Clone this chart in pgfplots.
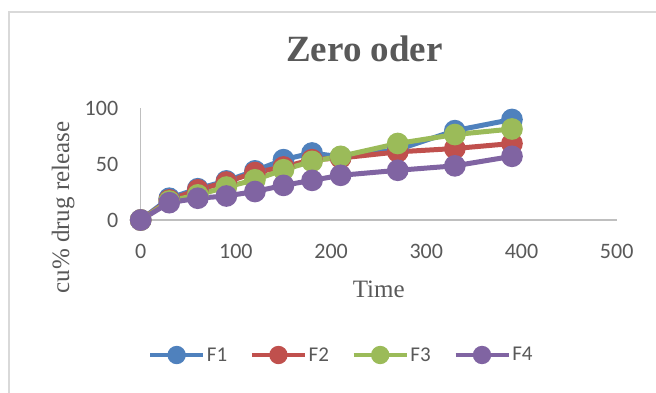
\documentclass[border=0pt]{standalone}
\usepackage{fontspec}
\setmainfont{Liberation Serif}
\newfontfamily\calibri{Carlito}
\usepackage{pgfplots}
\pgfplotsset{compat=1.18}

\definecolor{sBlue}{HTML}{4F81BD}
\definecolor{sRed}{HTML}{C0504D}
\definecolor{sGreen}{HTML}{9BBB59}
\definecolor{sPurple}{HTML}{8064A2}
\definecolor{txtGray}{HTML}{595959}
\definecolor{axGray}{HTML}{BFBFBF}
\definecolor{frameGray}{HTML}{D9D9D9}

\begin{document}
\begin{tikzpicture}[x=1pt,y=1pt]
\useasboundingbox (0,0) rectangle (656,392);
\begin{scope}
\clip (0,0) rectangle (656,392);
\fill[white] (0,0) rectangle (656,392);
\draw[frameGray, line width=1.4pt] (9,-20) rectangle (700,380);
\end{scope}
\begin{axis}[
  at={(140.7pt,172pt)}, anchor=south west,
  scale only axis, width=476pt, height=111.7pt,
  xmin=0, xmax=500, ymin=0, ymax=100,
  xtick={0,100,...,500}, ytick={0,50,100},
  axis x line*=bottom, axis y line*=left,
  axis line style={axGray, line width=1.2pt},
  major tick length=0pt,
  clip=false,
  /pgf/number format/assume math mode=true,
  ticklabel style={font=\calibri\fontsize{22}{22}\selectfont, text=txtGray},
  xticklabel style={anchor=center, yshift=-31pt},
  yticklabel style={anchor=east, xshift=-19pt},
  title={Zero oder},
  title style={at={(axis description cs:0.470,1.3635)}, anchor=base,
    font=\bfseries\fontsize{37}{37}\selectfont, text=txtGray},
  xlabel={Time},
  xlabel style={at={(axis description cs:0.5,-0.698)}, anchor=base,
    font=\fontsize{25}{25}\selectfont, text=txtGray},
  ylabel={cu\% drug release},
  ylabel style={at={(axis description cs:-0.163,0.112)}, anchor=center, rotate=0,
    font=\fontsize{25}{25}\selectfont, text=txtGray},
  legend columns=4,
  legend style={draw=none, fill=none, at={(axis description cs:0.4218,-1.2086)}, anchor=center,
    font=\calibri\fontsize{21}{21}\selectfont, text=txtGray,
    /tikz/every even column/.append style={column sep=21pt}},
  legend image code/.code={
    \draw[mark repeat=2, mark phase=2, #1, line width=3.5pt, mark size=7.4pt]
      plot coordinates {(0pt,0pt) (26.5pt,0pt) (53pt,0pt)};
  },
  every axis plot/.append style={line width=5pt, mark=*, mark size=8.3pt,
    mark options={solid, line width=0pt}},
]
\addplot[sBlue, mark options={fill=sBlue, draw=sBlue}] coordinates {
  (0,0) (30,19.5) (60,28) (90,35) (120,44) (150,54) (180,60) (210,56.5) (270,63) (330,80) (390,90)};
\addlegendentry{F1}
\addplot[sRed, mark options={fill=sRed, draw=sRed}] coordinates {
  (0,0) (30,18) (60,27) (90,34) (120,42.5) (150,47.5) (180,54) (210,55.5) (270,61) (330,64) (390,68.5)};
\addlegendentry{F2}
\addplot[sGreen, mark options={fill=sGreen, draw=sGreen}] coordinates {
  (0,0) (30,17) (60,22.5) (90,29.5) (120,36) (150,45) (180,52.5) (210,57) (270,68.5) (330,76.5) (390,81.5)};
\addlegendentry{F3}
\addplot[sPurple, mark options={fill=sPurple, draw=sPurple}] coordinates {
  (0,0) (30,15.5) (60,19.5) (90,21.5) (120,25.5) (150,31) (180,35.5) (210,40) (270,44.5) (330,48.5) (390,57)};
\addlegendentry{F4}
\end{axis}
\end{tikzpicture}
\end{document}
